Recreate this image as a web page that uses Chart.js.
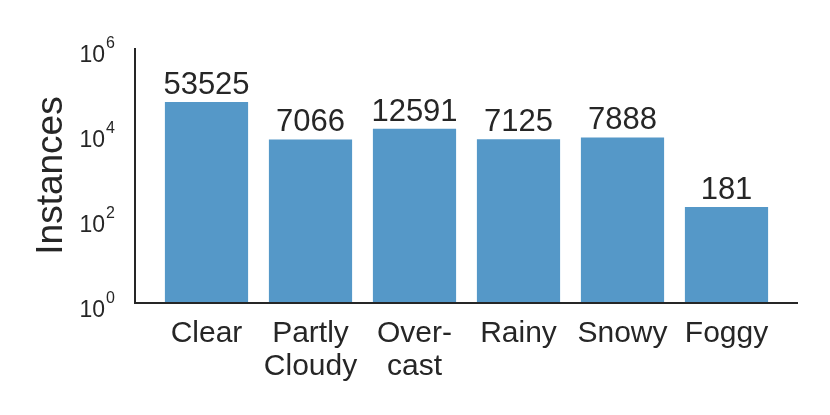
<!DOCTYPE html>
<html>
<head>
<meta charset="utf-8">
<script src="https://cdn.jsdelivr.net/npm/chart.js@4/dist/chart.umd.min.js"></script>
<style>
  html, body { margin: 0; padding: 0; background: #fff; }
  #wrap { width: 830px; height: 415px; position: relative; }
</style>
</head>
<body>
<div id="wrap"><canvas id="chart"></canvas></div>
<script>
const categories = [["Clear"], ["Partly", "Cloudy"], ["Over-", "cast"], ["Rainy"], ["Snowy"], ["Foggy"]];
const instances = [53525, 7066, 12591, 7125, 7888, 181];
const yTickExponents = [0, 2, 4, 6];
const yTitle = "Instances";

const FONT = '"Liberation Sans", Arial, Helvetica, sans-serif';
const INK = "#262626";
const BAR = "#5598c8";

// axis lines, y ticks with superscripts, y title and value labels
const decorations = {
  id: "decorations",
  afterDatasetsDraw(chart) {
    const { ctx, chartArea, scales } = chart;
    const y = scales.y;
    const axisLeft = chartArea.left - 19.5;
    const axisRight = chartArea.right + 19.5;
    const yTop = y.getPixelForValue(1e6);
    const yBottom = y.getPixelForValue(1);

    ctx.save();
    ctx.strokeStyle = INK;
    ctx.lineWidth = 2;
    ctx.beginPath();
    ctx.moveTo(axisLeft, yTop);
    ctx.lineTo(axisLeft, yBottom);
    ctx.lineTo(axisRight, yBottom);
    ctx.stroke();

    ctx.fillStyle = INK;
    yTickExponents.forEach(e => {
      const py = y.getPixelForValue(Math.pow(10, e));
      ctx.font = "23px " + FONT;
      ctx.textAlign = "right";
      ctx.textBaseline = "alphabetic";
      ctx.fillText("10", 105, py + 14);
      ctx.font = "16px " + FONT;
      ctx.textAlign = "left";
      ctx.fillText(String(e), 106, py);
    });

    ctx.save();
    ctx.translate(62, (yTop + yBottom) / 2);
    ctx.rotate(-Math.PI / 2);
    ctx.font = "37px " + FONT;
    ctx.textAlign = "center";
    ctx.textBaseline = "alphabetic";
    ctx.fillText(yTitle, 0, 0);
    ctx.restore();

    const meta = chart.getDatasetMeta(0);
    ctx.font = "31px " + FONT;
    ctx.textAlign = "center";
    ctx.textBaseline = "alphabetic";
    meta.data.forEach((bar, i) => {
      ctx.fillText(String(instances[i]), bar.x, bar.y - 8);
    });
    ctx.restore();
  }
};

new Chart(document.getElementById("chart"), {
  type: "bar",
  data: {
    labels: categories,
    datasets: [{
      data: instances,
      backgroundColor: BAR,
      borderWidth: 0,
      categoryPercentage: 1.0,
      barPercentage: 0.8
    }]
  },
  options: {
    responsive: true,
    maintainAspectRatio: false,
    animation: false,
    devicePixelRatio: 1,
    layout: { padding: { left: 154.5, right: 51.5, top: 48, bottom: 18 } },
    plugins: { legend: { display: false }, tooltip: { enabled: false } },
    scales: {
      x: {
        offset: true,
        grid: { display: false, drawTicks: false },
        border: { display: false },
        ticks: {
          color: INK,
          padding: 14,
          maxRotation: 0,
          autoSkip: false,
          font: { family: FONT, size: 30, lineHeight: 33 / 30 }
        }
      },
      y: {
        type: "logarithmic",
        display: false,
        min: 1,
        max: 1e6
      }
    }
  },
  plugins: [decorations]
});
</script>
</body>
</html>
